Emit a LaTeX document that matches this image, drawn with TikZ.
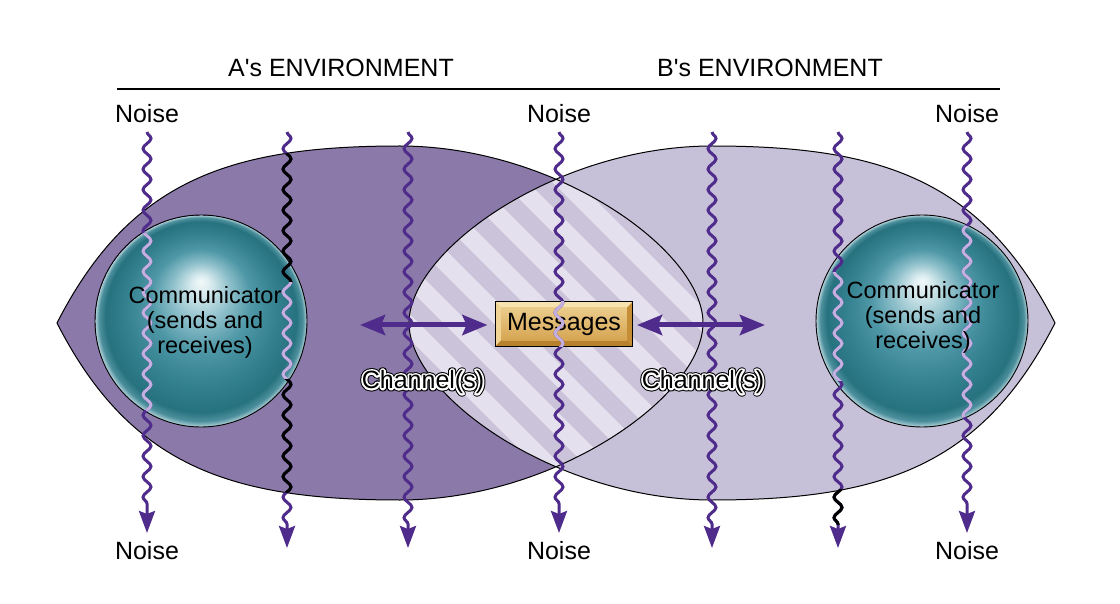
\documentclass[tikz,border=0pt]{standalone}
\usepackage{fontspec}
\setmainfont{Liberation Sans}[Ligatures=TeXOff]
\usetikzlibrary{arrows.meta,decorations.pathmorphing}
\definecolor{envA}{HTML}{8B79A9}
\definecolor{envB}{HTML}{C7C0D9}
\definecolor{hatchD}{HTML}{CBC3DA}
\definecolor{hatchL}{HTML}{E5E0ED}
\definecolor{noisec}{HTML}{4F2C8B}
\definecolor{lavc}{HTML}{C4B0E0}
\definecolor{bA}{HTML}{F2F8F9}
\definecolor{bB}{HTML}{DCEDF0}
\definecolor{bC}{HTML}{8DBFCA}
\definecolor{bD}{HTML}{4E97A6}
\definecolor{bE}{HTML}{33808F}
\definecolor{bF}{HTML}{27727F}
\definecolor{bG}{HTML}{4C8F9C}
\definecolor{bH}{HTML}{B5D5DC}
\definecolor{gface}{HTML}{E2B96C}
\definecolor{gfaceT}{HTML}{EBCB8A}
\definecolor{gfaceB}{HTML}{D6A552}
\definecolor{gtop}{HTML}{F7E3B0}
\definecolor{gleft}{HTML}{F0D496}
\definecolor{gbot}{HTML}{B8812E}
\definecolor{gright}{HTML}{C48D36}
\pgfdeclareradialshading{ballteal}{\pgfpoint{0bp}{9.5bp}}{color(0bp)=(bA); color(2bp)=(bB); color(7bp)=(bC); color(12bp)=(bD); color(18bp)=(bE); color(22.5bp)=(bF); color(24bp)=(bG); color(25bp)=(bH)}
\newcommand\halotext[1]{%
  \rlap{\special{pdf:literal direct 0 0 0 RG 5.8 w 1 j 1 Tr}#1\special{pdf:literal direct 0 Tr}}%
  \rlap{\special{pdf:literal direct 1 1 1 RG 3.8 w 1 j 1 Tr}#1\special{pdf:literal direct 0 Tr}}%
  #1}
\def\pathL{(57,323) .. controls (130,180) and (230,146) .. (400,146) .. controls (555,146) and (703,250) .. (703,323) .. controls (703,396) and (555,500) .. (400,500) .. controls (230,500) and (130,466) .. (57,323) -- cycle}
\def\pathR{(1055,323) .. controls (982,180) and (882,146) .. (712,146) .. controls (557,146) and (409,250) .. (409,323) .. controls (409,396) and (557,500) .. (712,500) .. controls (882,500) and (982,466) .. (1055,323) -- cycle}
\begin{document}
\begin{tikzpicture}[x=1pt,y=-1pt,
  lbl/.style={font=\fontsize{25}{28}\selectfont, inner sep=0pt},
  outline/.style={draw=black, line width=1pt},
  ball/.style={circle, minimum size=212pt, inner sep=0pt, draw=black, line width=0.9pt, shading=ballteal},
  balltext/.style={align=center, font=\fontsize{23.5}{25}\selectfont, inner sep=0pt},
  wave/.style={draw=noisec, line width=3pt, decorate, decoration={snake, amplitude=4pt, segment length=20.5pt, post length=23pt}, -{Stealth[length=22pt,width=16pt,inset=3pt]}},
  lavwave/.style={wave, draw=lavc},
  blkwave/.style={wave, draw=black},
  dbl/.style={draw=noisec, line width=5pt, {Stealth[length=25pt,width=20pt,inset=4pt]}-{Stealth[length=25pt,width=20pt,inset=4pt]}},
  msgbox/.style={rectangle, minimum width=137pt, minimum height=44pt, inner sep=0pt, draw=black, line width=1pt, fill=gface, font=\fontsize{25}{28}\selectfont,
    path picture={
      \coordinate (pnw) at (path picture bounding box.north west);
      \coordinate (pne) at (path picture bounding box.north east);
      \coordinate (psw) at (path picture bounding box.south west);
      \coordinate (pse) at (path picture bounding box.south east);
      \fill[gtop] (pnw) -- (pne) -- ([shift={(-6,6)}]pne) -- ([shift={(6,6)}]pnw) -- cycle;
      \fill[gleft] (pnw) -- ([shift={(6,6)}]pnw) -- ([shift={(6,-6)}]psw) -- (psw) -- cycle;
      \fill[gbot] (psw) -- (pse) -- ([shift={(-6,-6)}]pse) -- ([shift={(6,-6)}]psw) -- cycle;
      \fill[gright] (pne) -- (pse) -- ([shift={(-6,-6)}]pse) -- ([shift={(-6,6)}]pne) -- cycle;
      \shade[top color=gfaceT, bottom color=gfaceB] ([shift={(6,6)}]pnw) rectangle ([shift={(-6,-6)}]pse);
    }},
  chan/.style={font=\fontsize{25}{28}\selectfont, inner sep=0pt},
  rulestyle/.style={draw=black, line width=1.4pt}
]
\useasboundingbox (0,0) rectangle (1120,604);
\fill[white] (0,0) rectangle (1120,604);

% environments
\fill[envB] \pathR;
\fill[envA] \pathL;
\begin{scope}
  \clip \pathL;
  \clip \pathR;
  \fill[hatchD] (390,130) rectangle (720,520);
  \foreach \k in {-8,...,8}
    \draw[hatchL, line width=17.7pt] ({556+50*\k-250},73) -- ++(500,500);
\end{scope}
\draw[outline] \pathR;
\draw[outline] \pathL;

% header
\node[lbl] (ha) at (341,67.5) {A's ENVIRONMENT};
\node[lbl] (hb) at (770,67.5) {B's ENVIRONMENT};
\coordinate (rl) at (117,89);
\coordinate (rr) at (1000,89);
\draw[rulestyle] (rl) -- (rr);

% communicators
\node[ball] (ca) at (201,321) {};
\node[ball] (cb) at (922,321) {};

% messages and channels
\node[msgbox] (msg) at (564,324) {Messages};
\coordinate (chl) at (360,325);
\coordinate (chr) at (765,325);
\draw[dbl, shorten >=7.5pt] (chl) -- (msg.west |- chl);
\draw[dbl, shorten <=4pt] (msg.east |- chr) -- (chr);

% noise lines
\coordinate (n1t) at (147,132); \coordinate (n1b) at (147,533);
\coordinate (w2t) at (287,132); \coordinate (w2b) at (287,548);
\coordinate (w3t) at (408,132); \coordinate (w3b) at (408,548);
\coordinate (n4t) at (559,132); \coordinate (n4b) at (559,533);
\coordinate (w5t) at (712,132); \coordinate (w5b) at (712,548);
\coordinate (w6t) at (838,132); \coordinate (w6b) at (838,548);
\coordinate (n7t) at (967,132); \coordinate (n7b) at (967,533);
\draw[wave] (n1t) -- (n1b);
\draw[wave] (w2t) -- (w2b);
\draw[wave] (w3t) -- (w3b);
\draw[wave] (n4t) -- (n4b);
\draw[wave] (w5t) -- (w5b);
\draw[wave] (w6t) -- (w6b);
\draw[wave] (n7t) -- (n7b);

% overlays
\begin{scope}
  \clip (ca.center) circle[radius=105pt];
  \draw[lavwave] (n1t) -- (n1b);
\end{scope}
\begin{scope}
  \clip (cb.center) circle[radius=105pt];
  \draw[lavwave] (n7t) -- (n7b);
\end{scope}
\begin{scope}
  \clip (msg.north west) rectangle (msg.south east);
  \draw[lavwave] (n4t) -- (n4b);
\end{scope}
\begin{scope}
  \clip \pathL;
  \clip (250,0) rectangle (320,283) (250,378) rectangle (320,604);
  \draw[blkwave] (w2t) -- (w2b);
\end{scope}
\begin{scope}
  \clip (250,283) rectangle (320,378);
  \draw[lavwave] (w2t) -- (w2b);
\end{scope}
\begin{scope}
  \clip (800,273) rectangle (880,380);
  \draw[lavwave] (w6t) -- (w6b);
\end{scope}
\begin{scope}
  \clip (800,489) rectangle (880,524);
  \draw[blkwave] (w6t) -- (w6b);
\end{scope}

% communicator texts
\node[balltext] (cta) at (205,322) {Communicator\\(sends and\\receives)};
\node[balltext] (ctb) at (923,317) {Communicator\\(sends and\\receives)};

% channel labels
\node[chan] (chla) at (423,382) {\halotext{Channel(s)}};
\node[chan] (chlb) at (703,382) {\halotext{Channel(s)}};

% noise labels
\node[lbl] (nl1) at (147,114) {Noise};
\node[lbl] (nl4) at (559,114) {Noise};
\node[lbl] (nl7) at (967,114) {Noise};
\node[lbl] (nb1) at (147,550.5) {Noise};
\node[lbl] (nb4) at (559,550.5) {Noise};
\node[lbl] (nb7) at (967,550.5) {Noise};
\end{tikzpicture}
\end{document}
